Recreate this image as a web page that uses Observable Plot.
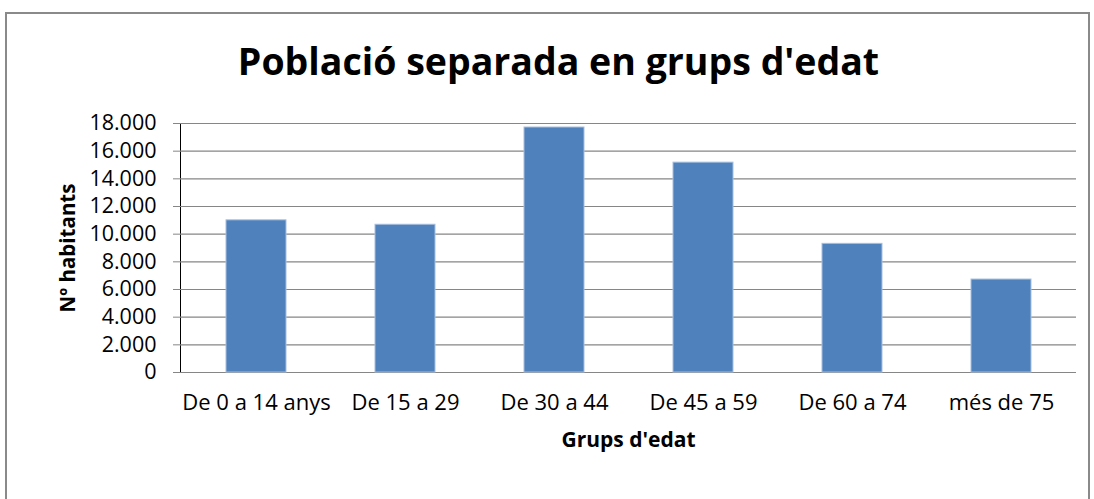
<!DOCTYPE html>
<html>
<head>
<meta charset="utf-8">
<script src="https://cdn.jsdelivr.net/npm/d3@7"></script>
<script src="https://cdn.jsdelivr.net/npm/@observablehq/plot@0.6"></script>
<style>
  html, body { margin: 0; padding: 0; background: #fff; }
  #wrap { position: relative; width: 1094px; height: 499px; overflow: hidden; }
  #border { position: absolute; left: 5px; top: 12px; width: 1085px; height: 520px; border: 2px solid #8a8a8a; box-sizing: border-box; }
  #chart { position: absolute; left: 0; top: 0; }
</style>
</head>
<body>
<div id="wrap"><div id="border"></div><div id="chart"></div></div>
<script>
const title = "Població separada en grups d'edat";
const yLabel = "Nº habitants";
const xLabel = "Grups d'edat";
const categories = ["De 0 a 14 anys", "De 15 a 29", "De 30 a 44", "De 45 a 59", "De 60 a 74", "més de 75"];
const values = [11000, 10680, 17710, 15170, 9300, 6720];
const yTicks = [0, 2000, 4000, 6000, 8000, 10000, 12000, 14000, 16000, 18000];

const data = categories.map((c, i) => ({cat: c, value: values[i]}));
const fmt = d3.formatLocale({decimal: ",", thousands: ".", grouping: [3]}).format(",d");

const chart = Plot.plot({
  width: 1094,
  height: 499,
  marginLeft: 180,
  marginRight: 18,
  marginTop: 123,
  marginBottom: 127,
  style: {fontFamily: "'Open Sans', sans-serif", fontSize: "21.5px", color: "#000", background: "transparent", overflow: "visible"},
  x: {domain: categories, paddingInner: 0.6, paddingOuter: 0.3, label: null, tickSize: 0, tickPadding: 22},
  y: {domain: [0, 18000], ticks: yTicks, tickFormat: fmt, tickSize: 7, tickPadding: 17, label: null, line: true},
  marks: [
    Plot.gridY(yTicks, {stroke: "#868686", strokeOpacity: 1, strokeWidth: 1.2}),
    Plot.barY(data, {x: "cat", y: "value", fill: "#4F81BD", stroke: "#a7bfde", strokeWidth: 1}),
    Plot.text([title], {frameAnchor: "top", dx: -70, dy: -75, fontSize: 37.5, fontWeight: "bold", fill: "#000"}),
    Plot.text([yLabel], {frameAnchor: "left", textAnchor: "middle", dx: -112, rotate: -90, fontSize: 20.5, fontWeight: "bold", fill: "#000"}),
    Plot.text([xLabel], {frameAnchor: "bottom", dy: 74, fontSize: 21, fontWeight: "bold", fill: "#000"})
  ]
});
chart.querySelectorAll("[aria-label='x-axis tick label'] text").forEach(t => t.setAttribute("font-size", "22px"));
chart.querySelectorAll("[aria-label='y-axis tick'], [aria-label='y-axis line']").forEach(g => g.setAttribute("stroke", "#868686"));
document.getElementById("chart").appendChild(chart);
</script>
</body>
</html>
